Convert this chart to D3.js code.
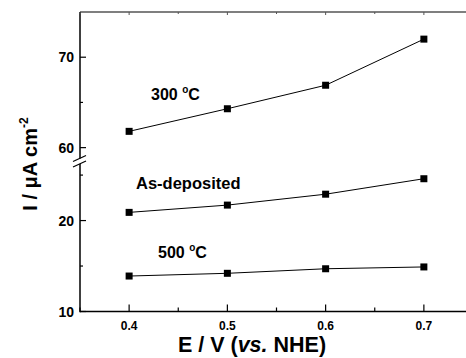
<!DOCTYPE html>
<html>
<head>
<meta charset="utf-8">
<script src="https://cdn.jsdelivr.net/npm/d3@7"></script>
<style>
  body { margin: 0; background: #fff; }
  svg { display: block; font-family: "Liberation Sans", Arial, sans-serif; }
</style>
</head>
<body>
<svg id="chart" width="466" height="358"></svg>
<script>
// values
const potentials = [0.4, 0.5, 0.6, 0.7];
const annealed300 = [61.8, 64.3, 66.9, 72.0];
const asDeposited = [20.9, 21.7, 22.9, 24.6];
const annealed500 = [13.9, 14.2, 14.7, 14.9];

const xTicks = [0.4, 0.5, 0.6, 0.7];
const xMinor = [0.35, 0.45, 0.55, 0.65, 0.75];
const yTicksLow = [10, 20];
const yMinorLow = [15, 25];
const yTicksHigh = [60, 70];
const yMinorHigh = [65];

const series = [
  { name: '300', values: annealed300, upper: true },
  { name: 'as', values: asDeposited, upper: false },
  { name: '500', values: annealed500, upper: false }
];

const svg = d3.select('#chart');
const plotLeft = 80, plotRight = 473, plotBottom = 311.5, plotTop = 12;

const x = d3.scaleLinear().domain([0.35, 0.75]).range([plotLeft, plotRight]);
// broken y axis: two segments
const yLow = d3.scaleLinear().domain([10, 26]).range([plotBottom, 166]);
const yHigh = d3.scaleLinear().domain([58.3, 75]).range([163, plotTop]);

const g = svg.append('g');

// frame: top (grey), bottom, left with break
g.append('line').attr('x1', plotLeft).attr('x2', 466).attr('y1', plotTop).attr('y2', plotTop)
  .attr('stroke', '#555').attr('stroke-width', 1.5);
g.append('line').attr('x1', plotLeft).attr('x2', 466).attr('y1', plotBottom).attr('y2', plotBottom)
  .attr('stroke', '#000').attr('stroke-width', 1.5);
g.append('line').attr('x1', plotLeft).attr('x2', plotLeft).attr('y1', plotTop).attr('y2', 158.5)
  .attr('stroke', '#000').attr('stroke-width', 1.5);
g.append('line').attr('x1', plotLeft).attr('x2', plotLeft).attr('y1', 164).attr('y2', plotBottom + 0.75)
  .attr('stroke', '#000').attr('stroke-width', 1.5);
[158.5, 164].forEach(yy => {
  g.append('line').attr('x1', plotLeft - 7).attr('x2', plotLeft + 6)
    .attr('y1', yy + 3).attr('y2', yy - 3)
    .attr('stroke', '#000').attr('stroke-width', 1.2);
});

// x ticks (inside, bottom and top)
xTicks.forEach(v => {
  g.append('line').attr('x1', x(v)).attr('x2', x(v)).attr('y1', plotBottom).attr('y2', plotBottom - 7)
    .attr('stroke', '#000').attr('stroke-width', 1.2);
  g.append('line').attr('x1', x(v)).attr('x2', x(v)).attr('y1', plotTop).attr('y2', plotTop + 3)
    .attr('stroke', '#555').attr('stroke-width', 1);
  g.append('text').attr('x', x(v)).attr('y', 330).attr('text-anchor', 'middle')
    .attr('font-size', 12).attr('font-weight', 'bold').text(v.toFixed(1));
});
xMinor.forEach(v => {
  g.append('line').attr('x1', x(v)).attr('x2', x(v)).attr('y1', plotBottom).attr('y2', plotBottom - 4)
    .attr('stroke', '#000').attr('stroke-width', 1.2);
  g.append('line').attr('x1', x(v)).attr('x2', x(v)).attr('y1', plotTop).attr('y2', plotTop + 2)
    .attr('stroke', '#555').attr('stroke-width', 1);
});

// y ticks
function yTick(scale, v, major) {
  g.append('line').attr('x1', plotLeft).attr('x2', plotLeft + (major ? 6 : 3))
    .attr('y1', scale(v)).attr('y2', scale(v)).attr('stroke', '#000').attr('stroke-width', 1.2);
  if (major) {
    g.append('text').attr('x', 74).attr('y', scale(v)).attr('dy', '0.36em')
      .attr('text-anchor', 'end').attr('font-size', 14).attr('font-weight', 'bold').text(v);
  }
}
yTicksLow.forEach(v => yTick(yLow, v, true));
yMinorLow.forEach(v => yTick(yLow, v, false));
yTicksHigh.forEach(v => yTick(yHigh, v, true));
yMinorHigh.forEach(v => yTick(yHigh, v, false));

// series
series.forEach(s => {
  const yS = s.upper ? yHigh : yLow;
  const pts = potentials.map((p, i) => [x(p), yS(s.values[i])]);
  g.append('path').attr('d', d3.line()(pts)).attr('fill', 'none')
    .attr('stroke', '#000').attr('stroke-width', 1);
  g.selectAll(null).data(pts).join('rect')
    .attr('x', d => d[0] - 3.5).attr('y', d => d[1] - 3.5)
    .attr('width', 7).attr('height', 7).attr('fill', '#000');
});

// annotations
function degLabel(xp, yp, num) {
  const t = g.append('text').attr('x', xp).attr('y', yp)
    .attr('font-size', 16).attr('font-weight', 'bold');
  t.append('tspan').text(num + ' ');
  t.append('tspan').attr('font-size', 10).attr('dy', -7).text('o');
  t.append('tspan').attr('dy', 7).text('C');
}
degLabel(151, 100, '300');
degLabel(158, 258, '500');
g.append('text').attr('x', 136).attr('y', 188.5).attr('font-size', 16.5)
  .attr('font-weight', 'bold').text('As-deposited');

// axis titles
g.append('text').attr('x', 252).attr('y', 352).attr('text-anchor', 'middle')
  .attr('font-size', 21.5).attr('font-weight', 'bold')
  .call(t => {
    t.append('tspan').text('E / V (');
    t.append('tspan').attr('font-style', 'italic').text('vs.');
    t.append('tspan').text(' NHE)');
  });

g.append('text').attr('transform', 'translate(37,164) rotate(-90)')
  .attr('text-anchor', 'middle').attr('font-size', 20).attr('font-weight', 'bold')
  .call(t => {
    t.append('tspan').text('I / \u03bcA cm');
    t.append('tspan').attr('font-size', 12).attr('dy', -9).text('-2');
  });
</script>
</body>
</html>
